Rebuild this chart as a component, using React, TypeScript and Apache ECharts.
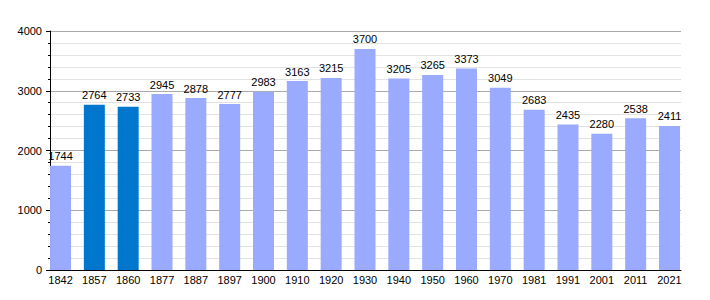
import React, { useEffect, useRef } from "react";
import * as echarts from "echarts";

const years = ["1842","1857","1860","1877","1887","1897","1900","1910","1920","1930","1940","1950","1960","1970","1981","1991","2001","2011","2021"];
const population = [1744,2764,2733,2945,2878,2777,2983,3163,3215,3700,3205,3265,3373,3049,2683,2435,2280,2538,2411];
const highlighted = ["1857","1860"];

const LIGHT = "#99aaff";
const DARK = "#0077cc";
const FONT = "Liberation Sans, Arial, sans-serif";

export default function App() {
  const ref = useRef<HTMLDivElement>(null);
  useEffect(() => {
    if (!ref.current) return;
    const chart = echarts.init(ref.current, undefined, { renderer: "svg" });
    chart.setOption({
      animation: false,
      backgroundColor: "#fff",
      textStyle: { fontFamily: FONT },
      grid: [
        { left: 50, top: 31, width: 631, height: 239 },
        { left: 43.6, top: 31, width: 642.8, height: 239 },
      ],
      xAxis: [
        {
          gridIndex: 0, type: "value", min: 0, max: 1, z: 10,
          axisLine: { show: true, lineStyle: { color: "#000", width: 1 } },
          axisTick: { show: false }, axisLabel: { show: false }, splitLine: { show: false },
        },
        {
          gridIndex: 1, type: "category", data: years,
          axisLine: { show: false }, axisTick: { show: false },
          axisLabel: { color: "#000", fontSize: 11, margin: 4, fontFamily: FONT, interval: 0 },
        },
      ],
      yAxis: [
        {
          gridIndex: 0, type: "value", min: 0, max: 4000, interval: 1000,
          axisLine: { show: true, lineStyle: { color: "#000", width: 1 } },
          axisTick: { show: true, length: 4, lineStyle: { color: "#000" } },
          minorTick: { show: true, splitNumber: 5, length: 2, lineStyle: { color: "#000" } },
          axisLabel: { color: "#000", fontSize: 11, margin: 8, fontFamily: FONT, formatter: (v: number) => String(v) },
          splitLine: { show: true, lineStyle: { color: "#aaaaaa", width: 1 } },
          minorSplitLine: { show: true, lineStyle: { color: "#e2e2e2", width: 1 } },
        },
        { gridIndex: 1, type: "value", min: 0, max: 4000, show: false, splitLine: { show: false } },
      ],
      series: [
        {
          type: "bar", xAxisIndex: 1, yAxisIndex: 1, barWidth: 21, z: 5,
          data: population.map((v, i) => ({
            value: v,
            itemStyle: { color: highlighted.includes(years[i]) ? DARK : LIGHT },
          })),
          label: { show: true, position: "top", distance: 4, color: "#000", fontSize: 11, fontFamily: FONT },
        },
      ],
    });
    return () => chart.dispose();
  }, []);
  return <div ref={ref} style={{ width: 710, height: 300, margin: -8 }} />;
}
